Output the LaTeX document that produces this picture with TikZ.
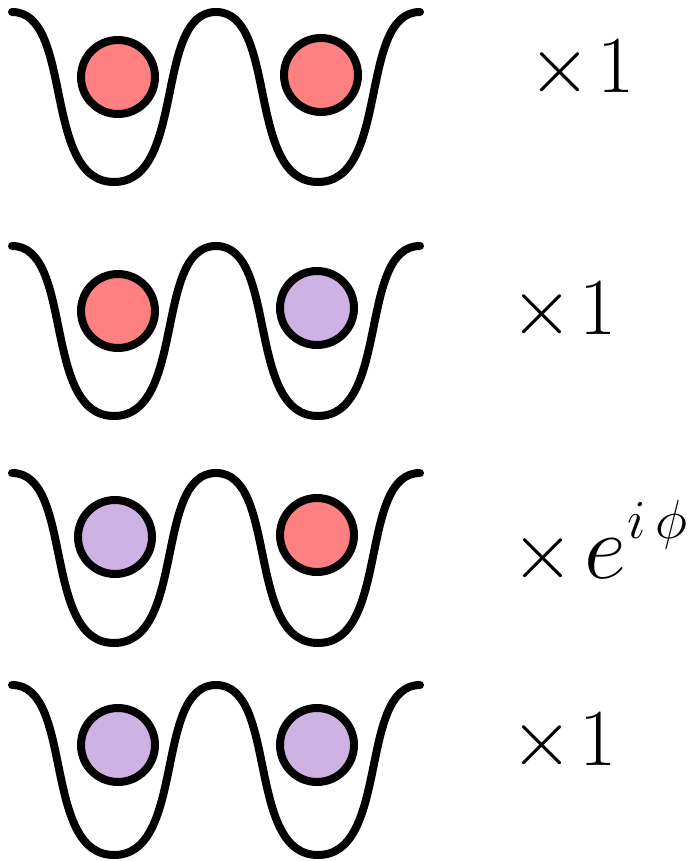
\documentclass[tikz,border=0pt]{standalone}
\usepackage{fix-cm}
\definecolor{ballred}{RGB}{255,128,128}
\definecolor{ballpurple}{RGB}{205,178,227}
\tikzset{
  wellline/.style={line width=8pt, black, line cap=round},
  ball/.style={circle, draw=black, line width=8pt, minimum size=74pt, inner sep=0pt},
  redball/.style={ball, fill=ballred},
  purpleball/.style={ball, fill=ballpurple},
  factor/.style={anchor=base west, inner sep=0pt, font=\fontsize{81}{90}\selectfont},
  dwell/.pic={
    \draw[wellline] (0,0) .. controls (62,0) and (30,170) .. (102,170)
      .. controls (174,170) and (142,0) .. (204,0)
      .. controls (266,0) and (234,170) .. (306,170)
      .. controls (378,170) and (346,0) .. (408,0);
  }
}
\begin{document}
\begin{tikzpicture}[x=1pt, y=-1pt]
\useasboundingbox (0,0) rectangle (690,861);
% wells
\pic at (12,12) {dwell};
\pic at (12,246) {dwell};
\pic at (12,473) {dwell};
\pic at (12,685) {dwell};
% balls
\node[redball] (b1l) at (118,77) {};
\node[redball] (b1r) at (321,75) {};
\node[redball] (b2l) at (118,311) {};
\node[purpleball] (b2r) at (317,308) {};
\node[purpleball] (b3l) at (115,537) {};
\node[redball] (b3r) at (317,535) {};
\node[purpleball] (b4l) at (118,745) {};
\node[purpleball] (b4r) at (317,745) {};
% factors
\node[factor] (f1) at (528,93) {$\times$\kern6pt$1$};
\node[factor] (f2) at (510,334) {$\times$\kern6pt$1$};
\node[factor] (f3) at (511,578) {$\times$\kern10pt{\fontsize{92}{92}\selectfont$e$}\kern2pt\raisebox{40pt}{\fontsize{55}{60}\selectfont$i\,\phi$}};
\node[factor] (f4) at (510,765) {$\times$\kern6pt$1$};
\end{tikzpicture}
\end{document}
